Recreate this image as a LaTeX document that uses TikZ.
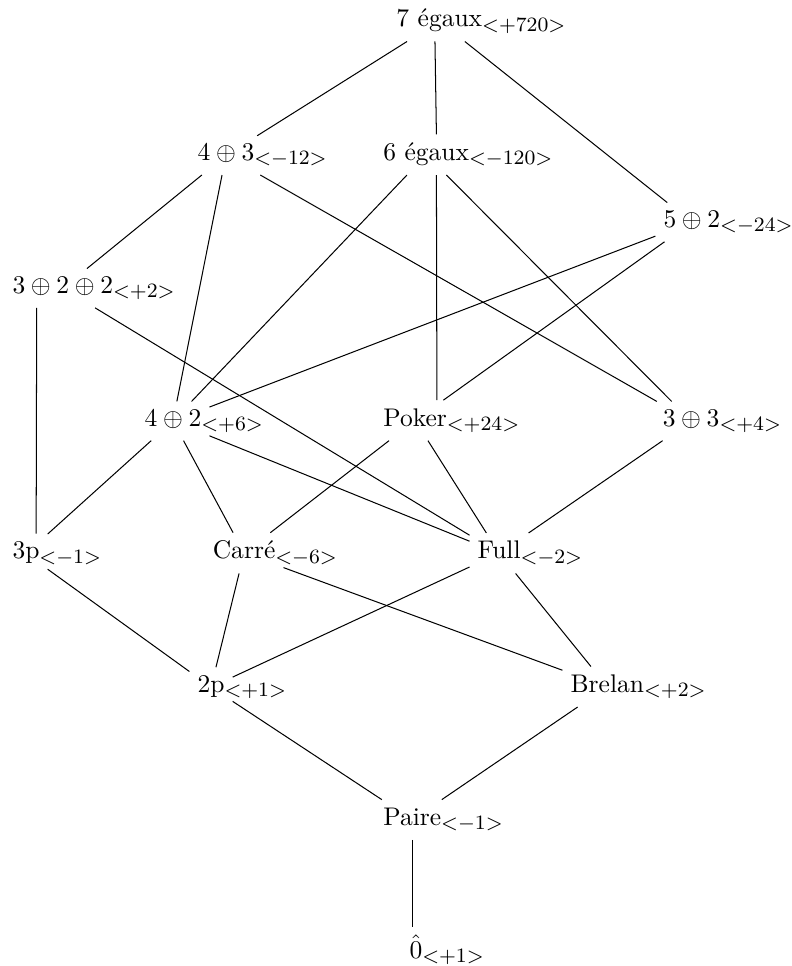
\documentclass[tikz,border=0pt]{standalone}
\usepackage{amsmath,amssymb}
\DeclareMathSizes{10}{10}{8}{6}
\newcommand{\elem}[2]{$#1\rlap{$_{<#2>}$}$}

\begin{document}
\begin{tikzpicture}[
    vtx/.style={inner sep=3pt, anchor=base west}
  ]
  \useasboundingbox (0,0) rectangle (10.90,13.31);

  % Top
  \node[vtx] (seven) at (5.35, 12.94) {\elem{\text{7 égaux}}{+720}};

  % Second row
  \node[vtx] (fourthree) at (2.61, 11.10) {\elem{4\oplus 3}{-12}};
  \node[vtx] (sixeq) at (5.17, 11.10) {\elem{\text{6 égaux}}{-120}};
  \node[vtx] (fivetwo) at (9.03, 10.18) {\elem{5\oplus 2}{-24}};
  \node[vtx] (threetwotwo) at (0.06, 9.27) {\elem{3\oplus 2\oplus 2}{+2}};

  % Middle
  \node[vtx] (fourtwo) at (1.88, 7.44) {\elem{4\oplus 2}{+6}};
  \node[vtx] (poker) at (5.17, 7.44) {\elem{\text{Poker}}{+24}};
  \node[vtx] (threethree) at (9.02, 7.44) {\elem{3\oplus 3}{+4}};

  \node[vtx] (threep) at (0.06, 5.61) {\elem{\text{3p}}{-1}};
  \node[vtx] (carre) at (2.82, 5.61) {\elem{\text{Carré}}{-6}};
  \node[vtx] (full) at (6.47, 5.61) {\elem{\text{Full}}{-2}};

  \node[vtx] (twop) at (2.61, 3.77) {\elem{\text{2p}}{+1}};
  \node[vtx] (brelan) at (7.75, 3.77) {\elem{\text{Brelan}}{+2}};

  % Bottom
  \node[vtx] (paire) at (5.17, 1.94) {\elem{\text{Paire}}{-1}};
  \node[vtx] (zero) at (5.53, 0.11) {\elem{\hat{0}}{+1}};

  % Covering relations
  \draw (seven) -- (fourthree);
  \draw ([xshift=-0.06cm]seven.south) -- ([xshift=0.14cm]sixeq.north);
  \draw (seven) -- (fivetwo);

  \draw (fourthree) -- (threetwotwo);
  \draw (fourthree) -- (fourtwo);
  \draw (fourthree) -- (threethree);
  \draw (sixeq) -- (fourtwo);
  \draw ([xshift=0.14cm]sixeq.south) -- ([xshift=0.30cm]poker.north);
  \draw (sixeq) -- (threethree);
  \draw (fivetwo) -- (fourtwo);
  \draw (fivetwo) -- (poker);

  \draw ([xshift=-0.36cm]threetwotwo.south) -- ([xshift=0.14cm]threep.north);
  \draw (threetwotwo) -- (full);
  \draw (fourtwo) -- (threep);
  \draw (fourtwo) -- (carre);
  \draw (fourtwo) -- (full);
  \draw (poker) -- (carre);
  \draw (poker) -- (full);
  \draw (threethree) -- (full);

  \draw (threep) -- (twop);
  \draw (carre) -- (twop);
  \draw (carre) -- (brelan);
  \draw (full) -- (twop);
  \draw (full) -- (brelan);

  \draw (twop) -- (paire);
  \draw (brelan) -- (paire);
  \draw (paire.south) -- (zero.north -| paire.south);
\end{tikzpicture}
\end{document}
